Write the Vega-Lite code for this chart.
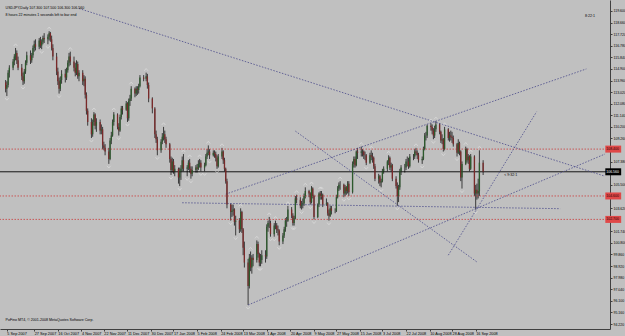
{
"$schema":"https://vega.github.io/schema/vega-lite/v6.json",
"width":610,"height":329,
"autosize":{"type":"none"},
"padding":{"left":0,"top":0,"right":15,"bottom":7},
"background":"#c0c0c0",
"config":{"view":{"stroke":null},"font":"Liberation Sans"},
"resolve":{"axis":{"x":"independent","y":"independent"}},
"datasets":{
"bars":[
{"d":"2007-09-04","o":113.8,"h":114.0,"l":113.0,"c":113.3},
{"d":"2007-09-05","o":113.3,"h":113.9,"l":112.7,"c":113.6},
{"d":"2007-09-06","o":113.6,"h":114.8,"l":113.4,"c":114.6},
{"d":"2007-09-07","o":114.6,"h":115.2,"l":114.2,"c":115.0},
{"d":"2007-09-10","o":115.0,"h":115.7,"l":114.8,"c":115.5},
{"d":"2007-09-11","o":115.5,"h":116.1,"l":115.2,"c":115.9},
{"d":"2007-09-12","o":115.9,"h":116.6,"l":115.6,"c":116.2},
{"d":"2007-09-13","o":116.2,"h":116.4,"l":115.3,"c":115.6},
{"d":"2007-09-14","o":115.6,"h":115.9,"l":114.8,"c":115.0},
{"d":"2007-09-17","o":115.0,"h":115.3,"l":114.0,"c":114.3},
{"d":"2007-09-18","o":114.3,"h":114.6,"l":113.6,"c":113.9},
{"d":"2007-09-19","o":113.9,"h":114.9,"l":113.7,"c":114.7},
{"d":"2007-09-20","o":114.7,"h":115.6,"l":114.5,"c":115.4},
{"d":"2007-09-21","o":115.4,"h":116.3,"l":115.2,"c":116.0},
{"d":"2007-09-24","o":116.0,"h":116.4,"l":115.3,"c":115.6},
{"d":"2007-09-25","o":115.6,"h":116.2,"l":115.4,"c":116.0},
{"d":"2007-09-26","o":116.0,"h":116.8,"l":115.8,"c":116.6},
{"d":"2007-09-27","o":116.6,"h":117.2,"l":116.3,"c":116.9},
{"d":"2007-09-28","o":116.9,"h":117.3,"l":116.4,"c":116.7},
{"d":"2007-10-01","o":116.7,"h":117.4,"l":116.5,"c":117.2},
{"d":"2007-10-02","o":117.2,"h":117.5,"l":116.6,"c":116.8},
{"d":"2007-10-03","o":116.8,"h":117.3,"l":116.5,"c":117.1},
{"d":"2007-10-04","o":117.1,"h":117.6,"l":116.9,"c":117.4},
{"d":"2007-10-05","o":117.4,"h":117.8,"l":117.0,"c":117.3},
{"d":"2007-10-08","o":117.3,"h":117.7,"l":116.9,"c":117.5},
{"d":"2007-10-09","o":117.5,"h":117.96,"l":117.2,"c":117.8},
{"d":"2007-10-10","o":117.8,"h":117.9,"l":117.1,"c":117.3},
{"d":"2007-10-11","o":117.3,"h":117.6,"l":116.4,"c":116.6},
{"d":"2007-10-12","o":116.6,"h":116.9,"l":115.6,"c":115.9},
{"d":"2007-10-15","o":115.9,"h":116.2,"l":114.4,"c":114.7},
{"d":"2007-10-16","o":114.7,"h":115.0,"l":113.6,"c":113.9},
{"d":"2007-10-17","o":113.9,"h":114.2,"l":112.9,"c":113.3},
{"d":"2007-10-18","o":113.3,"h":114.3,"l":113.1,"c":114.0},
{"d":"2007-10-19","o":114.0,"h":114.8,"l":113.7,"c":114.5},
{"d":"2007-10-22","o":114.5,"h":114.9,"l":113.8,"c":114.2},
{"d":"2007-10-23","o":114.2,"h":115.0,"l":114.0,"c":114.8},
{"d":"2007-10-24","o":114.8,"h":115.6,"l":114.6,"c":115.4},
{"d":"2007-10-25","o":115.4,"h":116.2,"l":115.1,"c":115.9},
{"d":"2007-10-26","o":115.9,"h":116.3,"l":115.2,"c":115.5},
{"d":"2007-10-29","o":115.5,"h":115.9,"l":114.7,"c":115.0},
{"d":"2007-10-30","o":115.0,"h":115.4,"l":114.3,"c":114.6},
{"d":"2007-10-31","o":114.6,"h":115.6,"l":114.4,"c":115.3},
{"d":"2007-11-01","o":115.3,"h":115.5,"l":114.1,"c":114.3},
{"d":"2007-11-02","o":114.3,"h":114.8,"l":113.9,"c":114.6},
{"d":"2007-11-05","o":114.6,"h":114.8,"l":113.6,"c":113.9},
{"d":"2007-11-06","o":113.9,"h":114.4,"l":113.5,"c":114.1},
{"d":"2007-11-07","o":114.1,"h":114.3,"l":112.5,"c":112.8},
{"d":"2007-11-08","o":112.8,"h":113.0,"l":111.2,"c":111.5},
{"d":"2007-11-09","o":111.5,"h":111.7,"l":110.3,"c":110.6},
{"d":"2007-11-12","o":110.6,"h":110.9,"l":109.3,"c":109.6},
{"d":"2007-11-13","o":109.6,"h":110.8,"l":109.4,"c":110.6},
{"d":"2007-11-14","o":110.6,"h":111.4,"l":110.3,"c":111.2},
{"d":"2007-11-15","o":111.2,"h":111.3,"l":110.0,"c":110.3},
{"d":"2007-11-16","o":110.3,"h":110.9,"l":109.8,"c":110.6},
{"d":"2007-11-19","o":110.6,"h":110.8,"l":109.6,"c":109.9},
{"d":"2007-11-20","o":109.9,"h":110.4,"l":109.6,"c":110.0},
{"d":"2007-11-21","o":110.0,"h":110.2,"l":108.4,"c":108.7},
{"d":"2007-11-22","o":108.7,"h":109.0,"l":108.3,"c":108.5},
{"d":"2007-11-23","o":108.5,"h":108.8,"l":107.9,"c":108.2},
{"d":"2007-11-26","o":108.2,"h":108.5,"l":107.2,"c":107.6},
{"d":"2007-11-27","o":107.6,"h":109.3,"l":107.5,"c":109.1},
{"d":"2007-11-28","o":109.1,"h":109.8,"l":108.8,"c":109.5},
{"d":"2007-11-29","o":109.5,"h":110.8,"l":109.4,"c":110.6},
{"d":"2007-11-30","o":110.6,"h":111.4,"l":110.3,"c":111.2},
{"d":"2007-12-03","o":111.2,"h":111.3,"l":110.0,"c":110.2},
{"d":"2007-12-04","o":110.2,"h":110.5,"l":109.5,"c":109.9},
{"d":"2007-12-05","o":109.9,"h":111.2,"l":109.8,"c":111.0},
{"d":"2007-12-06","o":111.0,"h":111.9,"l":110.8,"c":111.7},
{"d":"2007-12-07","o":111.7,"h":111.9,"l":111.2,"c":111.6},
{"d":"2007-12-10","o":111.6,"h":112.3,"l":111.5,"c":112.1},
{"d":"2007-12-11","o":112.1,"h":112.2,"l":110.6,"c":110.9},
{"d":"2007-12-12","o":110.9,"h":112.5,"l":110.7,"c":112.3},
{"d":"2007-12-13","o":112.3,"h":112.8,"l":111.9,"c":112.5},
{"d":"2007-12-14","o":112.5,"h":113.5,"l":112.3,"c":113.3},
{"d":"2007-12-17","o":113.3,"h":113.4,"l":112.6,"c":112.9},
{"d":"2007-12-18","o":112.9,"h":113.5,"l":112.7,"c":113.3},
{"d":"2007-12-19","o":113.3,"h":113.5,"l":112.8,"c":113.2},
{"d":"2007-12-20","o":113.2,"h":113.7,"l":112.9,"c":113.5},
{"d":"2007-12-21","o":113.5,"h":114.4,"l":113.4,"c":114.2},
{"d":"2007-12-24","o":114.2,"h":114.4,"l":113.9,"c":114.1},
{"d":"2007-12-26","o":114.1,"h":114.6,"l":113.9,"c":114.3},
{"d":"2007-12-27","o":114.3,"h":114.5,"l":113.3,"c":113.6},
{"d":"2007-12-28","o":113.6,"h":113.8,"l":112.2,"c":112.5},
{"d":"2007-12-31","o":112.5,"h":112.6,"l":111.3,"c":111.7},
{"d":"2008-01-02","o":111.7,"h":111.8,"l":109.3,"c":109.6},
{"d":"2008-01-03","o":109.6,"h":109.9,"l":108.9,"c":109.2},
{"d":"2008-01-04","o":109.2,"h":109.4,"l":107.9,"c":108.3},
{"d":"2008-01-07","o":108.3,"h":109.2,"l":108.1,"c":109.0},
{"d":"2008-01-08","o":109.0,"h":109.7,"l":108.8,"c":109.4},
{"d":"2008-01-09","o":109.4,"h":110.2,"l":109.1,"c":109.6},
{"d":"2008-01-10","o":109.6,"h":109.9,"l":108.9,"c":109.2},
{"d":"2008-01-11","o":109.2,"h":109.4,"l":108.5,"c":108.8},
{"d":"2008-01-14","o":108.8,"h":108.9,"l":107.3,"c":107.6},
{"d":"2008-01-15","o":107.6,"h":107.8,"l":106.3,"c":106.7},
{"d":"2008-01-16","o":106.7,"h":107.7,"l":106.5,"c":107.4},
{"d":"2008-01-17","o":107.4,"h":107.6,"l":106.4,"c":106.6},
{"d":"2008-01-18","o":106.6,"h":107.1,"l":106.2,"c":106.8},
{"d":"2008-01-21","o":106.8,"h":106.9,"l":105.6,"c":106.1},
{"d":"2008-01-22","o":106.1,"h":106.9,"l":105.4,"c":106.6},
{"d":"2008-01-23","o":106.6,"h":107.1,"l":105.9,"c":106.8},
{"d":"2008-01-24","o":106.8,"h":107.8,"l":106.6,"c":107.5},
{"d":"2008-01-25","o":107.5,"h":108.0,"l":106.6,"c":106.8},
{"d":"2008-01-28","o":106.8,"h":107.1,"l":106.2,"c":106.9},
{"d":"2008-01-29","o":106.9,"h":107.5,"l":106.7,"c":107.3},
{"d":"2008-01-30","o":107.3,"h":107.6,"l":106.5,"c":106.8},
{"d":"2008-01-31","o":106.8,"h":107.0,"l":106.0,"c":106.4},
{"d":"2008-02-01","o":106.4,"h":107.0,"l":106.2,"c":106.7},
{"d":"2008-02-04","o":106.7,"h":107.1,"l":106.5,"c":106.9},
{"d":"2008-02-05","o":106.9,"h":107.2,"l":106.5,"c":106.8},
{"d":"2008-02-06","o":106.8,"h":107.5,"l":106.7,"c":107.2},
{"d":"2008-02-07","o":107.2,"h":107.6,"l":106.9,"c":107.3},
{"d":"2008-02-08","o":107.3,"h":107.5,"l":106.6,"c":106.9},
{"d":"2008-02-11","o":106.9,"h":107.3,"l":106.6,"c":107.1},
{"d":"2008-02-12","o":107.1,"h":108.0,"l":107.0,"c":107.8},
{"d":"2008-02-13","o":107.8,"h":108.4,"l":107.6,"c":108.1},
{"d":"2008-02-14","o":108.1,"h":108.7,"l":107.9,"c":108.2},
{"d":"2008-02-15","o":108.2,"h":108.4,"l":107.6,"c":107.9},
{"d":"2008-02-18","o":107.9,"h":108.3,"l":107.8,"c":108.1},
{"d":"2008-02-19","o":108.1,"h":108.3,"l":107.7,"c":108.0},
{"d":"2008-02-20","o":108.0,"h":108.2,"l":107.4,"c":107.7},
{"d":"2008-02-21","o":107.7,"h":107.9,"l":106.8,"c":107.0},
{"d":"2008-02-22","o":107.0,"h":108.0,"l":106.9,"c":107.8},
{"d":"2008-02-25","o":107.8,"h":108.5,"l":107.6,"c":108.2},
{"d":"2008-02-26","o":108.2,"h":108.3,"l":107.2,"c":107.5},
{"d":"2008-02-27","o":107.5,"h":107.7,"l":106.6,"c":106.8},
{"d":"2008-02-28","o":106.8,"h":106.9,"l":105.6,"c":105.8},
{"d":"2008-02-29","o":105.8,"h":106.0,"l":103.6,"c":103.9},
{"d":"2008-03-03","o":103.9,"h":104.0,"l":102.6,"c":103.3},
{"d":"2008-03-04","o":103.3,"h":103.9,"l":102.9,"c":103.4},
{"d":"2008-03-05","o":103.4,"h":103.9,"l":103.0,"c":103.5},
{"d":"2008-03-06","o":103.5,"h":103.6,"l":102.2,"c":102.5},
{"d":"2008-03-07","o":102.5,"h":103.0,"l":101.4,"c":102.6},
{"d":"2008-03-10","o":102.6,"h":102.8,"l":101.6,"c":101.9},
{"d":"2008-03-11","o":101.9,"h":103.6,"l":101.7,"c":103.3},
{"d":"2008-03-12","o":103.3,"h":103.4,"l":101.6,"c":101.9},
{"d":"2008-03-13","o":101.9,"h":102.0,"l":99.8,"c":100.4},
{"d":"2008-03-14","o":100.4,"h":100.9,"l":98.8,"c":99.2},
{"d":"2008-03-17","o":99.2,"h":99.5,"l":95.76,"c":97.3},
{"d":"2008-03-18","o":97.3,"h":99.9,"l":97.1,"c":99.6},
{"d":"2008-03-19","o":99.6,"h":100.1,"l":98.5,"c":98.8},
{"d":"2008-03-20","o":98.8,"h":99.8,"l":98.3,"c":99.6},
{"d":"2008-03-21","o":99.6,"h":99.9,"l":98.9,"c":99.4},
{"d":"2008-03-24","o":99.4,"h":101.0,"l":99.2,"c":100.7},
{"d":"2008-03-25","o":100.7,"h":100.9,"l":99.6,"c":99.9},
{"d":"2008-03-26","o":99.9,"h":100.0,"l":98.9,"c":99.2},
{"d":"2008-03-27","o":99.2,"h":99.9,"l":98.9,"c":99.4},
{"d":"2008-03-28","o":99.4,"h":100.2,"l":99.1,"c":99.8},
{"d":"2008-03-31","o":99.8,"h":100.2,"l":99.2,"c":99.7},
{"d":"2008-04-01","o":99.7,"h":102.3,"l":99.5,"c":102.1},
{"d":"2008-04-02","o":102.1,"h":102.6,"l":101.7,"c":102.4},
{"d":"2008-04-03","o":102.4,"h":102.9,"l":102.0,"c":102.4},
{"d":"2008-04-04","o":102.4,"h":102.6,"l":101.3,"c":101.5},
{"d":"2008-04-07","o":101.5,"h":102.4,"l":101.3,"c":102.2},
{"d":"2008-04-08","o":102.2,"h":102.6,"l":101.9,"c":102.2},
{"d":"2008-04-09","o":102.2,"h":102.4,"l":101.6,"c":101.9},
{"d":"2008-04-10","o":101.9,"h":102.2,"l":101.4,"c":101.8},
{"d":"2008-04-11","o":101.8,"h":101.9,"l":100.6,"c":100.9},
{"d":"2008-04-14","o":100.9,"h":101.6,"l":100.7,"c":101.4},
{"d":"2008-04-15","o":101.4,"h":102.1,"l":101.2,"c":101.9},
{"d":"2008-04-16","o":101.9,"h":102.8,"l":101.7,"c":102.6},
{"d":"2008-04-17","o":102.6,"h":102.9,"l":102.1,"c":102.6},
{"d":"2008-04-18","o":102.6,"h":103.8,"l":102.5,"c":103.5},
{"d":"2008-04-21","o":103.5,"h":103.7,"l":102.8,"c":103.0},
{"d":"2008-04-22","o":103.0,"h":103.2,"l":102.2,"c":102.4},
{"d":"2008-04-23","o":102.4,"h":103.0,"l":102.2,"c":102.8},
{"d":"2008-04-24","o":102.8,"h":104.6,"l":102.7,"c":104.4},
{"d":"2008-04-25","o":104.4,"h":104.7,"l":104.0,"c":104.3},
{"d":"2008-04-28","o":104.3,"h":104.5,"l":103.6,"c":103.8},
{"d":"2008-04-29","o":103.8,"h":104.2,"l":103.5,"c":103.9},
{"d":"2008-04-30","o":103.9,"h":104.4,"l":103.6,"c":104.0},
{"d":"2008-05-01","o":104.0,"h":104.8,"l":103.8,"c":104.6},
{"d":"2008-05-02","o":104.6,"h":105.3,"l":104.4,"c":105.0},
{"d":"2008-05-05","o":105.0,"h":105.1,"l":104.5,"c":104.8},
{"d":"2008-05-06","o":104.8,"h":104.9,"l":103.9,"c":104.1},
{"d":"2008-05-07","o":104.1,"h":105.4,"l":104.0,"c":105.2},
{"d":"2008-05-08","o":105.2,"h":105.3,"l":104.4,"c":104.6},
{"d":"2008-05-09","o":104.6,"h":104.7,"l":102.7,"c":102.9},
{"d":"2008-05-12","o":102.9,"h":104.0,"l":102.8,"c":103.9},
{"d":"2008-05-13","o":103.9,"h":104.9,"l":103.7,"c":104.8},
{"d":"2008-05-14","o":104.8,"h":105.0,"l":104.3,"c":104.6},
{"d":"2008-05-15","o":104.6,"h":105.0,"l":104.3,"c":104.7},
{"d":"2008-05-16","o":104.7,"h":104.8,"l":103.7,"c":103.9},
{"d":"2008-05-19","o":103.9,"h":104.4,"l":103.8,"c":104.0},
{"d":"2008-05-20","o":104.0,"h":104.1,"l":103.0,"c":103.2},
{"d":"2008-05-21","o":103.2,"h":103.5,"l":102.6,"c":103.0},
{"d":"2008-05-22","o":103.0,"h":103.8,"l":102.9,"c":103.6},
{"d":"2008-05-23","o":103.6,"h":103.8,"l":103.1,"c":103.4},
{"d":"2008-05-26","o":103.4,"h":103.6,"l":103.2,"c":103.4},
{"d":"2008-05-27","o":103.4,"h":104.7,"l":103.3,"c":104.5},
{"d":"2008-05-28","o":104.5,"h":105.4,"l":104.4,"c":105.2},
{"d":"2008-05-29","o":105.2,"h":105.7,"l":105.0,"c":105.5},
{"d":"2008-05-30","o":105.5,"h":105.8,"l":105.1,"c":105.5},
{"d":"2008-06-02","o":105.5,"h":105.6,"l":104.5,"c":104.8},
{"d":"2008-06-03","o":104.8,"h":105.5,"l":104.6,"c":105.3},
{"d":"2008-06-04","o":105.3,"h":105.4,"l":104.7,"c":105.0},
{"d":"2008-06-05","o":105.0,"h":105.8,"l":104.8,"c":105.6},
{"d":"2008-06-06","o":105.6,"h":105.8,"l":104.6,"c":104.9},
{"d":"2008-06-09","o":104.9,"h":107.4,"l":104.8,"c":107.2},
{"d":"2008-06-10","o":107.2,"h":107.8,"l":106.9,"c":107.6},
{"d":"2008-06-11","o":107.6,"h":107.8,"l":106.9,"c":107.1},
{"d":"2008-06-12","o":107.1,"h":108.3,"l":107.0,"c":108.2},
{"d":"2008-06-13","o":108.2,"h":108.5,"l":107.6,"c":108.1},
{"d":"2008-06-16","o":108.1,"h":108.6,"l":107.8,"c":108.2},
{"d":"2008-06-17","o":108.2,"h":108.4,"l":107.8,"c":108.2},
{"d":"2008-06-18","o":108.2,"h":108.3,"l":107.6,"c":107.9},
{"d":"2008-06-19","o":107.9,"h":108.2,"l":107.5,"c":107.9},
{"d":"2008-06-20","o":107.9,"h":108.0,"l":107.1,"c":107.3},
{"d":"2008-06-23","o":107.3,"h":108.1,"l":107.2,"c":107.9},
{"d":"2008-06-24","o":107.9,"h":108.3,"l":107.5,"c":107.8},
{"d":"2008-06-25","o":107.8,"h":108.1,"l":107.3,"c":107.7},
{"d":"2008-06-26","o":107.7,"h":107.8,"l":106.8,"c":107.0},
{"d":"2008-06-27","o":107.0,"h":107.2,"l":105.8,"c":106.0},
{"d":"2008-06-30","o":106.0,"h":106.4,"l":105.6,"c":106.2},
{"d":"2008-07-01","o":106.2,"h":106.3,"l":105.4,"c":105.7},
{"d":"2008-07-02","o":105.7,"h":106.0,"l":105.3,"c":105.8},
{"d":"2008-07-03","o":105.8,"h":106.8,"l":105.7,"c":106.6},
{"d":"2008-07-04","o":106.6,"h":107.0,"l":106.4,"c":106.8},
{"d":"2008-07-07","o":106.8,"h":107.5,"l":106.6,"c":107.4},
{"d":"2008-07-08","o":107.4,"h":107.9,"l":107.1,"c":107.7},
{"d":"2008-07-09","o":107.7,"h":107.8,"l":106.7,"c":106.9},
{"d":"2008-07-10","o":106.9,"h":107.3,"l":106.6,"c":107.1},
{"d":"2008-07-11","o":107.1,"h":107.2,"l":105.8,"c":106.0},
{"d":"2008-07-14","o":106.0,"h":106.2,"l":105.2,"c":105.4},
{"d":"2008-07-15","o":105.4,"h":105.7,"l":103.8,"c":104.6},
{"d":"2008-07-16","o":104.6,"h":105.5,"l":104.1,"c":105.3},
{"d":"2008-07-17","o":105.3,"h":106.8,"l":105.1,"c":106.6},
{"d":"2008-07-18","o":106.6,"h":107.1,"l":106.3,"c":106.9},
{"d":"2008-07-21","o":106.9,"h":107.2,"l":106.5,"c":106.9},
{"d":"2008-07-22","o":106.9,"h":107.6,"l":106.7,"c":107.4},
{"d":"2008-07-23","o":107.4,"h":107.8,"l":107.0,"c":107.4},
{"d":"2008-07-24","o":107.4,"h":107.7,"l":106.8,"c":107.0},
{"d":"2008-07-25","o":107.0,"h":108.0,"l":106.9,"c":107.8},
{"d":"2008-07-28","o":107.8,"h":108.0,"l":107.5,"c":107.8},
{"d":"2008-07-29","o":107.8,"h":108.4,"l":107.6,"c":108.2},
{"d":"2008-07-30","o":108.2,"h":108.5,"l":107.9,"c":108.1},
{"d":"2008-07-31","o":108.1,"h":108.3,"l":107.6,"c":107.9},
{"d":"2008-08-01","o":107.9,"h":108.1,"l":107.3,"c":107.5},
{"d":"2008-08-04","o":107.5,"h":107.8,"l":107.2,"c":107.6},
{"d":"2008-08-05","o":107.6,"h":108.6,"l":107.5,"c":108.4},
{"d":"2008-08-06","o":108.4,"h":109.7,"l":108.3,"c":109.5},
{"d":"2008-08-07","o":109.5,"h":109.8,"l":109.1,"c":109.5},
{"d":"2008-08-08","o":109.5,"h":110.4,"l":109.3,"c":110.3},
{"d":"2008-08-11","o":110.3,"h":110.5,"l":109.9,"c":110.2},
{"d":"2008-08-12","o":110.2,"h":110.4,"l":109.6,"c":109.9},
{"d":"2008-08-13","o":109.9,"h":110.1,"l":109.2,"c":109.5},
{"d":"2008-08-14","o":109.5,"h":110.3,"l":109.3,"c":110.0},
{"d":"2008-08-15","o":110.0,"h":110.66,"l":109.8,"c":110.4},
{"d":"2008-08-18","o":110.4,"h":110.5,"l":109.6,"c":109.8},
{"d":"2008-08-19","o":109.8,"h":109.9,"l":108.9,"c":109.1},
{"d":"2008-08-20","o":109.1,"h":109.6,"l":108.8,"c":109.2},
{"d":"2008-08-21","o":109.2,"h":109.3,"l":108.2,"c":108.4},
{"d":"2008-08-22","o":108.4,"h":110.2,"l":108.3,"c":110.0},
{"d":"2008-08-25","o":110.0,"h":110.1,"l":109.1,"c":109.3},
{"d":"2008-08-26","o":109.3,"h":109.8,"l":109.0,"c":109.5},
{"d":"2008-08-27","o":109.5,"h":109.9,"l":109.1,"c":109.4},
{"d":"2008-08-28","o":109.4,"h":109.8,"l":108.9,"c":109.3},
{"d":"2008-08-29","o":109.3,"h":109.5,"l":108.6,"c":108.8},
{"d":"2008-09-01","o":108.8,"h":108.9,"l":107.8,"c":108.1},
{"d":"2008-09-02","o":108.1,"h":109.2,"l":108.0,"c":108.9},
{"d":"2008-09-03","o":108.9,"h":109.0,"l":107.9,"c":108.2},
{"d":"2008-09-04","o":108.2,"h":108.3,"l":105.8,"c":106.1},
{"d":"2008-09-05","o":106.1,"h":107.4,"l":105.2,"c":107.2},
{"d":"2008-09-08","o":107.2,"h":108.6,"l":107.1,"c":108.4},
{"d":"2008-09-09","o":108.4,"h":108.5,"l":107.3,"c":107.5},
{"d":"2008-09-10","o":107.5,"h":108.0,"l":107.2,"c":107.8},
{"d":"2008-09-11","o":107.8,"h":107.9,"l":106.6,"c":106.8},
{"d":"2008-09-12","o":106.8,"h":108.0,"l":106.7,"c":107.8},
{"d":"2008-09-15","o":107.8,"h":107.9,"l":104.6,"c":104.8},
{"d":"2008-09-16","o":104.8,"h":105.5,"l":103.5,"c":105.1},
{"d":"2008-09-17","o":105.1,"h":105.6,"l":104.3,"c":104.8},
{"d":"2008-09-18","o":104.8,"h":106.0,"l":104.4,"c":105.0},
{"d":"2008-09-19","o":105.0,"h":108.3,"l":104.6,"c":107.3},
{"d":"2008-09-22","o":107.3,"h":107.5,"l":106.3,"c":106.56}
],
"lines":[
{"d1":"2007-11-02","p1":119.8,"d2":"2008-12-29","p2":106.2},
{"d1":"2008-02-28","p1":104.75,"d2":"2008-12-14","p2":114.9},
{"d1":"2008-03-17","p1":95.76,"d2":"2008-12-29","p2":108.0},
{"d1":"2008-04-24","p1":109.86,"d2":"2008-09-17","p2":99.25},
{"d1":"2008-01-24","p1":104.05,"d2":"2008-11-23","p2":103.57},
{"d1":"2008-08-25","p1":99.8,"d2":"2008-11-04","p2":111.43}
],
"levels":[
{"p":108.4,"k":"r"},
{"p":104.6,"k":"r"},
{"p":102.7,"k":"r"},
{"p":106.56,"k":"b"}
],
"notes":[
{"d":"2007-09-04","p":120.0,"t":"USDJPY,Daily  107.300 107.500 106.300 106.560"},
{"d":"2007-09-04","p":119.47,"t":"8 hours 22 minutes 1 seconds left to bar end"},
{"d":"2007-09-04","p":94.69,"t":"PoFino MT4, © 2001-2008 MetaQuotes Software Corp."},
{"d":"2008-12-13","p":119.38,"t":"8:22:1"},
{"d":"2008-10-09","p":106.48,"t":"< 9:32:1"}
]
},
"layer":[
{
"data":{"name":"bars"},
"mark":{"type":"rule","color":"#000000","strokeWidth":0.7},
"encoding":{
"x":{"field":"d","type":"temporal","title":null,
"scale":{"type":"utc","domain":[{"year":2007,"month":9,"date":3,"hours":12,"utc":true},{"year":2008,"month":12,"date":29,"utc":true}]},
"axis":{"title":null,"format":"%-d %b %Y","labelFontSize":3.8,"labelAlign":"left","labelBaseline":"top","labelPadding":0.5,"tickSize":2,"labelColor":"#000000","domainColor":"#404040","tickColor":"#404040","labelOverlap":false,"labelFlush":false,"labelBound":false,"grid":false,
"values":[
{"year":2007,"month":9,"date":5,"utc":true},
{"year":2007,"month":9,"date":27,"utc":true},
{"year":2007,"month":10,"date":16,"utc":true},
{"year":2007,"month":11,"date":4,"utc":true},
{"year":2007,"month":11,"date":22,"utc":true},
{"year":2007,"month":12,"date":11,"utc":true},
{"year":2007,"month":12,"date":30,"utc":true},
{"year":2008,"month":1,"date":17,"utc":true},
{"year":2008,"month":2,"date":5,"utc":true},
{"year":2008,"month":2,"date":24,"utc":true},
{"year":2008,"month":3,"date":13,"utc":true},
{"year":2008,"month":4,"date":1,"utc":true},
{"year":2008,"month":4,"date":20,"utc":true},
{"year":2008,"month":5,"date":9,"utc":true},
{"year":2008,"month":5,"date":27,"utc":true},
{"year":2008,"month":6,"date":15,"utc":true},
{"year":2008,"month":7,"date":3,"utc":true},
{"year":2008,"month":7,"date":22,"utc":true},
{"year":2008,"month":8,"date":10,"utc":true},
{"year":2008,"month":8,"date":28,"utc":true},
{"year":2008,"month":9,"date":16,"utc":true}
]}},
"y":{"field":"l","type":"quantitative","title":null,"scale":{"domain":[94.22,120.083],"zero":false,"nice":false},
"axis":{"orient":"right","title":null,"format":".3f","labelFontSize":3.5,"labelPadding":1,"tickSize":2,"labelColor":"#000000","domainColor":"#404040","tickColor":"#404040","labelOverlap":false,"labelFlush":false,"labelBound":false,"grid":false,
"values":[94.22,95.16,96.1,97.04,97.98,98.92,99.86,100.8,101.74,103.62,105.5,107.38,109.26,110.2,111.14,112.08,113.02,113.96,114.9,115.84,116.78,117.72,118.66,119.6]}},
"y2":{"field":"h"}
}
},
{
"data":{"name":"levels"},
"transform":[{"filter":"datum.k == 'r'"}],
"mark":{"type":"rule","color":"#cc3c3c","strokeWidth":0.8,"strokeDash":[1.5,1.5]},
"encoding":{"y":{"field":"p","type":"quantitative","axis":null}}
},
{
"data":{"name":"levels"},
"transform":[{"filter":"datum.k == 'b'"}],
"mark":{"type":"rule","color":"#000000","strokeWidth":0.9},
"encoding":{"y":{"field":"p","type":"quantitative","axis":null}}
},
{
"data":{"name":"lines"},
"mark":{"type":"rule","color":"#4a4a8a","strokeWidth":0.8,"strokeDash":[1.5,1.5]},
"encoding":{
"x":{"field":"d1","type":"temporal","axis":null},
"x2":{"field":"d2"},
"y":{"field":"p1","type":"quantitative","axis":null},
"y2":{"field":"p2"}
}
},
{
"data":{"name":"bars"},
"mark":{"type":"bar","width":1.3},
"encoding":{
"x":{"field":"d","type":"temporal","axis":null},
"y":{"field":"o","type":"quantitative","axis":null},
"y2":{"field":"c"},
"color":{"condition":{"test":"datum.c >= datum.o","value":"#2d5a2d"},"value":"#7a2a2a"}
}
},
{
"data":{"name":"bars"},
"transform":[
{"window":[{"op":"max","field":"h","as":"mh"}],"frame":[-2,2],"sort":[{"field":"d"}]},
{"filter":"datum.h == datum.mh"}
],
"mark":{"type":"point","shape":"M -1 0.6 L 0 -0.6 L 1 0.6","filled":false,"size":14,"stroke":"#e6e6e6","strokeWidth":0.8,"yOffset":-3},
"encoding":{
"x":{"field":"d","type":"temporal","axis":null},
"y":{"field":"h","type":"quantitative","axis":null}
}
},
{
"data":{"name":"bars"},
"transform":[
{"window":[{"op":"min","field":"l","as":"ml"}],"frame":[-2,2],"sort":[{"field":"d"}]},
{"filter":"datum.l == datum.ml"}
],
"mark":{"type":"point","shape":"M -1 -0.6 L 0 0.6 L 1 -0.6","filled":false,"size":14,"stroke":"#e6e6e6","strokeWidth":0.8,"yOffset":3},
"encoding":{
"x":{"field":"d","type":"temporal","axis":null},
"y":{"field":"l","type":"quantitative","axis":null}
}
},
{
"data":{"name":"levels"},
"mark":{"type":"bar","height":7},
"encoding":{
"x":{"datum":{"year":2008,"month":12,"date":29,"hours":6,"utc":true},"type":"temporal","axis":null},
"x2":{"datum":{"year":2009,"month":1,"date":11,"utc":true}},
"y":{"field":"p","type":"quantitative","axis":null},
"color":{"condition":{"test":"datum.k == 'r'","value":"#e04848"},"value":"#000000"}
}
},
{
"data":{"name":"levels"},
"mark":{"type":"text","fontSize":3.5,"align":"left","baseline":"middle"},
"encoding":{
"x":{"datum":{"year":2008,"month":12,"date":30,"utc":true},"type":"temporal","axis":null},
"y":{"field":"p","type":"quantitative","axis":null},
"text":{"field":"p","type":"quantitative","format":".3f"},
"color":{"condition":{"test":"datum.k == 'r'","value":"#200000"},"value":"#ffffff"}
}
},
{
"data":{"name":"notes"},
"mark":{"type":"text","fontSize":3.6,"align":"left","baseline":"top","color":"#000000"},
"encoding":{
"x":{"field":"d","type":"temporal","axis":null},
"y":{"field":"p","type":"quantitative","axis":null},
"text":{"field":"t"}
}
}
]
}
